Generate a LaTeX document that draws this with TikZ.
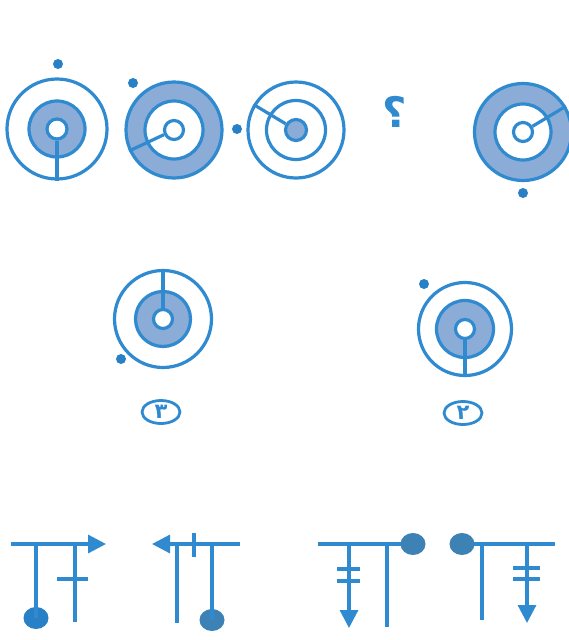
\documentclass[tikz,border=0pt]{standalone}
\usepackage{fontspec}
\newfontfamily\arfont[Script=Arabic]{DejaVu Sans}
\usetikzlibrary{shapes.geometric,arrows.meta}
\TeXXeTstate=1
\definecolor{ln}{RGB}{47,138,208}
\definecolor{sh}{RGB}{138,172,214}
\definecolor{dt}{RGB}{40,128,198}
\definecolor{dt2}{RGB}{60,130,180}
\tikzset{
  ring/.style={circle,draw=ln,line width=3.2pt,inner sep=0pt,fill=white,minimum size=#1},
  shring/.style={ring=#1,fill=sh},
  ln/.style={draw=ln,line width=3.2pt},
  dot/.style={circle,fill=dt,inner sep=0pt,minimum size=10pt},
  bigdot/.style={ellipse,fill=#1,inner sep=0pt,minimum width=25pt,minimum height=22pt},
  lbl/.style={ellipse,draw=ln,line width=2.8pt,minimum width=38pt,minimum height=23pt,inner sep=0pt,text=ln,font=\arfont\bfseries\fontsize{21}{21}\selectfont},
  arr/.style={ln,-{Triangle[length=18pt,width=18pt]}},
}
\begin{document}
\begin{tikzpicture}[x=1pt,y=-1pt]
\useasboundingbox (0,0) rectangle (569,640);
\fill[white] (0,0) rectangle (569,640);
% circle 1
\node[ring=100pt] (o1) at (57,129) {};
\node[shring=56pt] (m1) at (57,129) {};
\node[ring=20pt] (i1) at (57,129) {};
\draw[ln] (i1.-90) -- (o1.-90);
\node[dot] (d1) at (58,64) {};
% circle 2
\node[shring=96pt] (o2) at (174,130) {};
\node[ring=58pt] (m2) at (174,130) {};
\node[ring=19pt] (i2) at (174,130) {};
\draw[ln] (i2.205) -- (o2.205);
\node[dot] (d2) at (133,83) {};
% circle 3
\node[ring=96pt] (o3) at (296,130) {};
\node[ring=59pt] (m3) at (296,130) {};
\node[shring=21pt] (i3) at (296,130) {};
\draw[ln] (i3.149) -- (o3.149);
\node[dot] (d3) at (237,129) {};
% question mark
\node[text=ln,font=\arfont\bfseries\fontsize{42}{42}\selectfont,inner sep=0pt] (q) at (395,112) {\beginR ؟\endR};
% circle 5
\node[shring=97pt] (o5) at (523,132) {};
\node[ring=56pt] (m5) at (523,132) {};
\node[ring=19pt] (i5) at (523,132) {};
\draw[ln] (i5.31) -- (o5.31);
\node[dot] (d5) at (523,193) {};
% circle 3-labelled
\node[ring=97pt] (o6) at (163,319) {};
\node[shring=55pt] (m6) at (163,319) {};
\node[ring=19pt] (i6) at (163,319) {};
\draw[ln] (i6.90) -- (o6.90);
\node[dot] (d6) at (121,359) {};
\node[lbl] (l6) at (161,412) {\beginR ۳\endR};
% circle 2-labelled
\node[ring=93pt] (o7) at (465,329) {};
\node[shring=57pt] (m7) at (465,329) {};
\node[ring=19pt] (i7) at (465,329) {};
\draw[ln] (i7.-90) -- (o7.-90);
\node[dot] (d7) at (424,284) {};
\node[lbl] (l7) at (463,413) {\beginR ۲\endR};
% figure A
\coordinate (a0) at (11,544); \coordinate (a1) at (106,544);
\draw[arr] (a0) -- (a1);
\node[bigdot=dt] (ad) at (36,618) {};
\coordinate (av1) at (36,544);
\draw[ln] (av1) -- (ad.center);
\coordinate (av2) at (75,544); \coordinate (av3) at (75,622);
\draw[ln] (av2) -- (av3);
\coordinate (at1) at (57,579); \coordinate (at2) at (88,579);
\draw[ln] (at1) -- (at2);
% figure B
\coordinate (b0) at (240,544); \coordinate (b1) at (152,544);
\draw[arr] (b0) -- (b1);
\coordinate (bv1) at (177,544); \coordinate (bv2) at (177,623);
\draw[ln] (bv1) -- (bv2);
\node[bigdot=dt2] (bd) at (212,620) {};
\coordinate (bv3) at (212,544);
\draw[ln] (bv3) -- (bd.center);
\coordinate (bt1) at (194,533); \coordinate (bt2) at (194,557);
\draw[ln] (bt1) -- (bt2);
% figure C
\coordinate (cc) at (413,544);
\coordinate (c0) at (318,544);
\draw[ln] (c0) -- (cc);
\coordinate (cv1) at (349,544); \coordinate (cv2) at (349,628);
\draw[arr] (cv1) -- (cv2);
\coordinate (ct1) at (337,569); \coordinate (ct2) at (360,569);
\coordinate (ct3) at (337,581); \coordinate (ct4) at (360,581);
\draw[ln] (ct1) -- (ct2); \draw[ln] (ct3) -- (ct4);
\coordinate (cv3) at (387,544); \coordinate (cv4) at (387,627);
\draw[ln] (cv3) -- (cv4);
\node[bigdot=dt2] (cd) at (cc) {};
% figure D
\coordinate (dc) at (462,544);
\coordinate (d0) at (555,544);
\draw[ln] (dc) -- (d0);
\node[bigdot=dt2] (dd) at (dc) {};
\coordinate (dv1) at (482,544); \coordinate (dv2) at (482,620);
\draw[ln] (dv1) -- (dv2);
\coordinate (dv3) at (527,544); \coordinate (dv4) at (527,623);
\draw[arr] (dv3) -- (dv4);
\coordinate (dt1) at (513,568); \coordinate (dt2) at (540,568);
\coordinate (dt3) at (513,579); \coordinate (dt4) at (540,579);
\draw[ln] (dt1) -- (dt2); \draw[ln] (dt3) -- (dt4);
\end{tikzpicture}
\end{document}
